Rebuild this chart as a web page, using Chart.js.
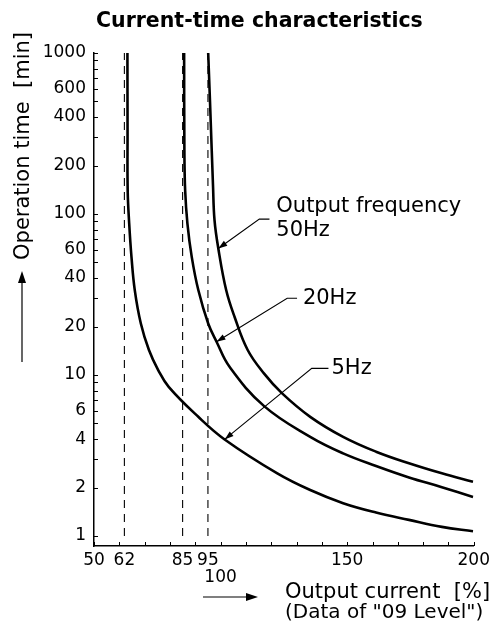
<!DOCTYPE html>
<html>
<head>
<meta charset="utf-8">
<script src="https://cdn.jsdelivr.net/npm/chart.js@4.4.0/dist/chart.umd.min.js"></script>
<style>
  html, body { margin: 0; padding: 0; background: #fff; }
  #wrap { width: 496px; height: 638px; position: relative; }
</style>
</head>
<body>
<div id="wrap"><canvas id="myChart"></canvas></div>
<script>
// Output current [%] vs operation time [min]
const current50 = [95.1, 95.8, 97.0, 97.6, 99.1, 102.2, 105.5, 110.7, 117.2, 124.3, 135.4, 148.4, 161.4, 174.4, 187.4, 199.7];
const time50    = [1000, 508, 151, 91.5, 61.1, 33.7, 23.0, 14.3, 10.2, 7.69, 5.5, 4.13, 3.34, 2.83, 2.45, 2.17];

const current20 = [85.6, 85.7, 86.0, 86.9, 88.6, 91.2, 95.1, 98.4, 103.6, 117.2, 135.4, 148.4, 161.4, 174.4, 187.4, 199.7];
const time20    = [1000, 249, 140.6, 87.3, 54.2, 33.7, 20.9, 16.1, 11.2, 6.41, 4.13, 3.26, 2.72, 2.31, 2.01, 1.75];

const current5 = [63.2, 63.25, 63.3, 63.9, 64.8, 66.1, 68.5, 71.7, 75.4, 79.5, 91.2, 101.6, 122.4, 135.4, 148.4, 161.4, 174.4, 187.4, 199.7];
const time5    = [1000, 331, 140.6, 87.3, 54.2, 33.7, 20.9, 14.3, 10.7, 8.45, 5.5, 3.98, 2.45, 1.93, 1.60, 1.40, 1.26, 1.14, 1.07];

// dashed lines where each curve goes vertical
const limitCurrents = [62, 85, 95];

// tick labels
const xTickLabels = [50, 62, 85, 95, 100, 150, 200];
const yTickLabels = [1, 2, 4, 6, 10, 20, 40, 60, 100, 200, 400, 600, 1000];

// leader lines: end of the horizontal stroke, elbow, arrow tip (data units)
const leaders = [
  [[119.3, 92.9], [115.3, 92.9], [99.1, 61.1]],
  [[130.2, 30.0], [126.3, 30.0], [98.4, 16.1]],
  [[142.6, 11.0], [136.0, 11.0], [101.6, 3.98]]
];
const curveLabels = [
  { text: 'Output frequency', x: 122.0, y: 111 },
  { text: '50Hz', x: 122.0, y: 79.3 },
  { text: '20Hz', x: 132.5, y: 30.0 },
  { text: '5Hz', x: 143.8, y: 11.0 }
];

// minor tick marks
const xMarks = [];
for (let v = 50; v <= 200; v += 10) xMarks.push(v);
const yMarks = [];
[1, 10, 100].forEach(d => { for (let k = 1; k < 10; k++) yMarks.push(k * d); });
yMarks.push(1000);

const FONT = 'DejaVu Sans';
Chart.defaults.font.family = FONT;
Chart.defaults.color = '#000';

const pairs = (xs, ys) => xs.map((x, i) => ({ x: x, y: ys[i] }));

const datasets = [];
[[current50, time50], [current20, time20], [current5, time5]].forEach(([xs, ys]) => {
  datasets.push({
    data: pairs(xs, ys),
    borderColor: '#000',
    borderWidth: 2.6,
    tension: 0.4,
    pointRadius: 0
  });
});
limitCurrents.forEach(c => {
  datasets.push({
    data: [{ x: c, y: 1 }, { x: c, y: 1000 }],
    borderColor: '#000',
    borderWidth: 1.1,
    borderDash: [8, 6],
    pointRadius: 0
  });
});
leaders.forEach(pts => {
  datasets.push({
    data: pts.map(p => ({ x: p[0], y: p[1] })),
    borderColor: '#000',
    borderWidth: 1.1,
    tension: 0,
    pointRadius: 0
  });
});

function arrowHead(ctx, x0, y0, x1, y1, len, half) {
  const a = Math.atan2(y1 - y0, x1 - x0);
  ctx.beginPath();
  ctx.moveTo(x1, y1);
  ctx.lineTo(x1 - len * Math.cos(a) + half * Math.sin(a), y1 - len * Math.sin(a) - half * Math.cos(a));
  ctx.lineTo(x1 - len * Math.cos(a) - half * Math.sin(a), y1 - len * Math.sin(a) + half * Math.cos(a));
  ctx.closePath();
  ctx.fill();
}

const decorations = {
  id: 'decorations',
  afterDraw(chart) {
    const { ctx, scales: { x, y }, chartArea } = chart;
    ctx.save();
    ctx.fillStyle = '#000';
    ctx.strokeStyle = '#000';

    // inward tick marks
    ctx.lineWidth = 1;
    ctx.beginPath();
    yMarks.forEach(v => {
      const py = Math.round(y.getPixelForValue(v)) + 0.5;
      ctx.moveTo(chartArea.left, py);
      ctx.lineTo(chartArea.left + 4, py);
    });
    xMarks.forEach(v => {
      const px = Math.round(x.getPixelForValue(v)) + 0.5;
      ctx.moveTo(px, chartArea.bottom);
      ctx.lineTo(px, chartArea.bottom - 4);
    });
    ctx.stroke();

    // arrow heads on the leaders
    leaders.forEach(pts => {
      const e = pts[1], t = pts[2];
      arrowHead(ctx, x.getPixelForValue(e[0]), y.getPixelForValue(e[1]),
        x.getPixelForValue(t[0]), y.getPixelForValue(t[1]), 9, 3);
    });

    // curve labels
    ctx.font = '21px "' + FONT + '"';
    ctx.textAlign = 'left';
    ctx.textBaseline = 'middle';
    curveLabels.forEach(l => {
      ctx.fillText(l.text, x.getPixelForValue(l.x), y.getPixelForValue(l.y));
    });

    // title
    ctx.font = 'bold 20.5px "' + FONT + '"';
    ctx.textBaseline = 'alphabetic';
    ctx.fillText('Current-time characteristics', 96, 27);

    // y axis title with arrow
    ctx.save();
    ctx.translate(29, 146);
    ctx.rotate(-Math.PI / 2);
    ctx.textAlign = 'center';
    ctx.font = '21px "' + FONT + '"';
    ctx.fillText('Operation time  [min]', 0, 0);
    ctx.restore();
    ctx.lineWidth = 1.2;
    ctx.beginPath();
    ctx.moveTo(22, 362);
    ctx.lineTo(22, 282);
    ctx.stroke();
    arrowHead(ctx, 22, 362, 22, 271, 12, 4);

    // x axis title with arrow
    ctx.beginPath();
    ctx.moveTo(203, 597);
    ctx.lineTo(248, 597);
    ctx.stroke();
    arrowHead(ctx, 203, 597, 258, 597, 12, 4);
    ctx.textAlign = 'left';
    ctx.font = '21px "' + FONT + '"';
    ctx.fillText('Output current  [%]', 285, 598);
    ctx.font = '20px "' + FONT + '"';
    ctx.fillText('(Data of "09 Level")', 285, 618);

    ctx.restore();
  }
};

new Chart(document.getElementById('myChart'), {
  type: 'line',
  data: { datasets: datasets },
  plugins: [decorations],
  options: {
    responsive: true,
    maintainAspectRatio: false,
    animation: false,
    layout: { padding: { top: 53, right: 16, left: 0, bottom: 0 } },
    plugins: { legend: { display: false }, tooltip: { enabled: false } },
    scales: {
      x: {
        type: 'linear',
        min: 50,
        max: 200,
        grid: { display: false, drawTicks: false },
        border: { color: '#000', width: 1.5 },
        afterBuildTicks: s => { s.ticks = xTickLabels.map(v => ({ value: v })); },
        afterFit: s => { s.height = 92; },
        ticks: {
          autoSkip: false,
          maxRotation: 0,
          padding: 6,
          font: { size: 17, lineHeight: 1 },
          callback: v => (v === 100 ? ['', '100'] : String(v))
        }
      },
      y: {
        type: 'logarithmic',
        min: 0.867,
        max: 1000,
        grid: { display: false, drawTicks: false },
        border: { color: '#000', width: 1.5 },
        afterBuildTicks: s => { s.ticks = yTickLabels.map(v => ({ value: v })); },
        afterFit: s => { s.width = 94; },
        ticks: {
          autoSkip: false,
          padding: 8,
          font: { size: 17 },
          callback: v => String(v)
        }
      }
    }
  }
});
</script>
</body>
</html>
